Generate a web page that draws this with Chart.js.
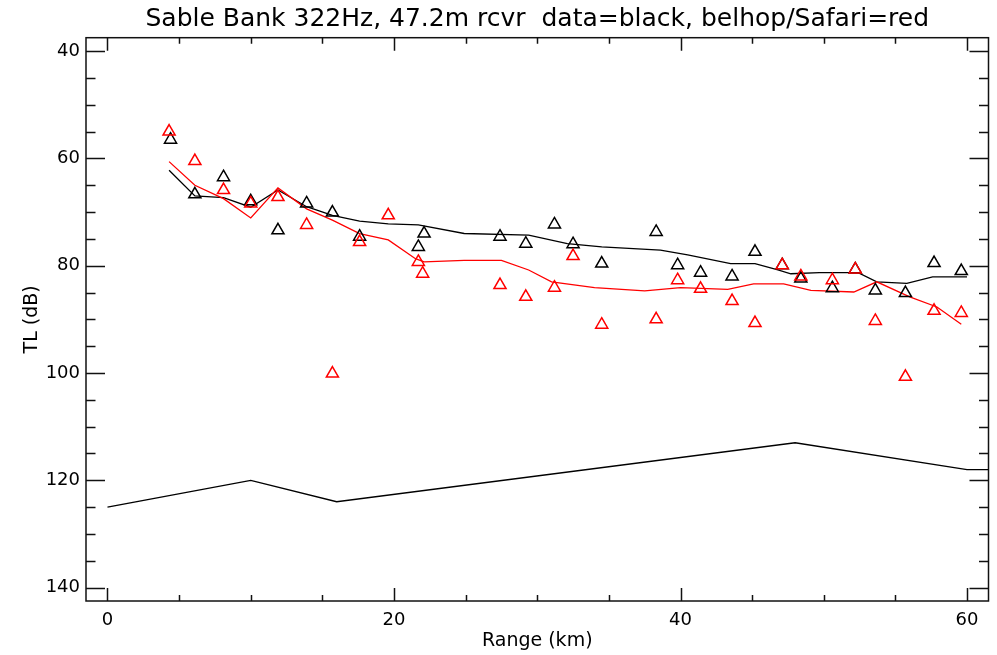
<!DOCTYPE html>
<html>
<head>
<meta charset="utf-8">
<script src="https://cdn.jsdelivr.net/npm/chart.js@4/dist/chart.umd.min.js"></script>
<style>
  html, body { margin: 0; padding: 0; background: #fff; }
  #wrap { width: 997px; height: 655px; }
</style>
</head>
<body>
<div id="wrap"><canvas id="tl" width="997" height="655"></canvas></div>
<script>
// measured TL (triangles), black = data, red = belhop/Safari
const DATA_R  = [4.4, 6.1, 8.1, 10.0, 11.9, 13.9, 15.7, 17.6, 21.7, 22.1, 27.4, 29.2, 31.2, 32.5, 34.5, 38.3, 39.8, 41.4, 43.6, 45.2, 47.1, 48.4, 50.6, 52.2, 53.6, 55.7, 57.7, 59.6];
const DATA_TL = [56.5, 66.7, 63.5, 68.0, 73.4, 68.4, 70.1, 74.6, 76.5, 74.0, 74.6, 75.9, 72.3, 76.0, 79.6, 73.7, 79.9, 81.3, 82.0, 77.4, 79.9, 82.4, 84.2, 80.7, 84.6, 85.1, 79.5, 81.0];

const MODEL_R  = [4.3, 6.1, 8.1, 10.0, 11.9, 13.9, 15.7, 17.6, 19.6, 21.7, 22.0, 27.4, 29.2, 31.2, 32.5, 34.5, 38.3, 39.8, 41.4, 43.6, 45.2, 47.1, 48.4, 50.6, 52.2, 53.6, 55.7, 57.7, 59.6];
const MODEL_TL = [55.0, 60.5, 65.9, 68.4, 67.2, 72.4, 100.1, 75.6, 70.6, 79.3, 81.5, 83.6, 85.8, 84.1, 78.2, 91.0, 90.0, 82.7, 84.3, 86.6, 90.7, 79.9, 82.0, 82.7, 80.7, 90.3, 100.7, 88.4, 88.8];

// running averages
const DATA_AVG_R  = [4.3, 6.1, 8.1, 10.0, 11.9, 13.9, 15.7, 17.6, 19.6, 21.7, 24.9, 29.4, 32.1, 34.5, 38.6, 40.5, 43.5, 45.2, 46.8, 47.7, 49.7, 52.4, 53.7, 55.8, 57.6, 60.0];
const DATA_AVG_TL = [62.2, 67.0, 67.3, 69.1, 65.9, 69.0, 70.6, 71.7, 72.2, 72.4, 74.0, 74.3, 75.9, 76.5, 77.1, 78.0, 79.6, 79.6, 80.8, 81.5, 81.3, 81.3, 83.0, 83.3, 82.1, 82.1];

const MODEL_AVG_R  = [4.3, 6.1, 8.1, 10.0, 11.9, 13.9, 15.7, 17.6, 19.6, 21.5, 22.1, 24.9, 27.5, 29.4, 31.0, 34.0, 37.5, 40.0, 43.3, 45.1, 47.2, 49.1, 52.1, 53.7, 56.0, 57.9, 59.6];
const MODEL_AVG_TL = [60.6, 65.0, 67.5, 71.1, 65.5, 69.4, 71.5, 74.0, 75.2, 78.7, 79.3, 79.0, 79.0, 80.8, 83.0, 84.1, 84.7, 84.1, 84.4, 83.4, 83.4, 84.6, 84.9, 83.0, 85.8, 87.7, 90.9];

// lower black trace
const FLOOR_R  = [0, 10, 16, 48, 60, 61.5];
const FLOOR_TL = [125, 120, 124, 113, 118, 118];

const X_TICKS = [0, 20, 40, 60];
const Y_TICKS = [40, 60, 80, 100, 120, 140];
const MINOR_STEP = 5;

const pts = (xs, ys) => xs.map((x, i) => ({ x, y: ys[i] }));

const FONT = "'DejaVu Sans', sans-serif";

// box round the plot, with minor/major ticks pointing inward on all four sides
const rahmen = {
  id: "rahmen",
  beforeDatasetsDraw(chart) {
    const { ctx, chartArea: a, scales: { x, y } } = chart;
    ctx.save();
    ctx.strokeStyle = "#111";
    ctx.lineWidth = 1.5;
    ctx.strokeRect(a.left, a.top, a.right - a.left, a.bottom - a.top);
    ctx.beginPath();
    for (let v = Math.ceil(x.min / MINOR_STEP) * MINOR_STEP; v <= x.max; v += MINOR_STEP) {
      const px = Math.round(x.getPixelForValue(v)) + 0.5;
      const major = X_TICKS.includes(v);
      ctx.moveTo(px, a.bottom); ctx.lineTo(px, a.bottom - (major ? 13 : 6));
      ctx.moveTo(px, a.top); ctx.lineTo(px, a.top + (major ? 13 : 6));
    }
    for (let v = Math.ceil(y.min / MINOR_STEP) * MINOR_STEP; v <= y.max; v += MINOR_STEP) {
      const py = Math.round(y.getPixelForValue(v)) + 0.5;
      const major = Y_TICKS.includes(v);
      ctx.moveTo(a.left, py); ctx.lineTo(a.left + (major ? 19 : 9.5), py);
      ctx.moveTo(a.right, py); ctx.lineTo(a.right - (major ? 19 : 9.5), py);
    }
    ctx.stroke();
    ctx.restore();
  }
};

const dreieck = (farbe) => ({
  showLine: false,
  pointStyle: "triangle",
  pointRadius: 7,
  pointBorderWidth: 1.5,
  borderColor: farbe,
  backgroundColor: "rgba(0,0,0,0)",
});
const linie = (farbe) => ({
  showLine: true,
  pointRadius: 0,
  borderWidth: 1.3,
  borderColor: farbe,
  tension: 0,
});

new Chart(document.getElementById("tl"), {
  type: "scatter",
  data: {
    datasets: [
      { label: "model", data: pts(MODEL_R, MODEL_TL), ...dreieck("#ff0000") },
      { label: "data", data: pts(DATA_R, DATA_TL), ...dreieck("#000") },
      { label: "model avg", data: pts(MODEL_AVG_R, MODEL_AVG_TL), ...linie("#ff0000") },
      { label: "data avg", data: pts(DATA_AVG_R, DATA_AVG_TL), ...linie("#000") },
      { label: "floor", data: pts(FLOOR_R, FLOOR_TL), ...linie("#000") },
    ],
  },
  options: {
    responsive: false,
    animation: false,
    devicePixelRatio: 1,
    layout: { padding: { left: 0, right: 4.3, top: 0, bottom: 0 } },
    plugins: {
      legend: { display: false },
      tooltip: { enabled: false },
      title: {
        display: true,
        fullSize: false,
        text: "Sable Bank 322Hz, 47.2m rcvr  data=black, belhop/Safari=red",
        color: "#000",
        font: { family: FONT, size: 25, weight: "normal" },
        padding: { top: 4, bottom: 3.7 },
      },
    },
    scales: {
      x: {
        type: "linear",
        min: -1.5,
        max: 61.5,
        grid: { display: false, drawTicks: false },
        border: { display: false },
        afterBuildTicks: (s) => { s.ticks = X_TICKS.map((v) => ({ value: v })); },
        afterFit: (s) => { s.height = 54; },
        ticks: { color: "#000", padding: 8.5, maxRotation: 0, font: { family: FONT, size: 18 } },
        title: { display: true, text: "Range (km)", color: "#000", font: { family: FONT, size: 19 }, padding: { top: 0, bottom: 3 } },
      },
      y: {
        type: "linear",
        reverse: true,
        min: 37.5,
        max: 142.5,
        grid: { display: false, drawTicks: false },
        border: { display: false },
        afterBuildTicks: (s) => { s.ticks = Y_TICKS.map((v) => ({ value: v })); },
        afterFit: (s) => { s.width = 86; },
        ticks: { color: "#000", padding: 6, font: { family: FONT, size: 18 } },
        title: { display: true, text: "TL (dB)", color: "#000", font: { family: FONT, size: 19 }, padding: { top: 21, bottom: 0 } },
      },
    },
  },
  plugins: [rahmen],
});
</script>
</body>
</html>
